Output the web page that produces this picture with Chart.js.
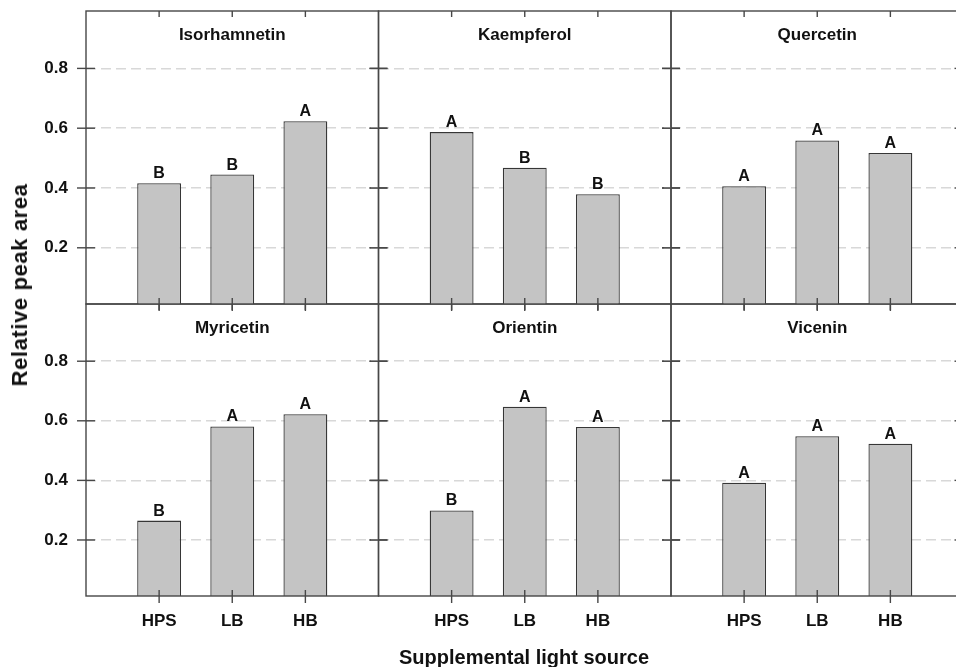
<!DOCTYPE html>
<html>
<head>
<meta charset="utf-8">
<script src="https://cdn.jsdelivr.net/npm/chart.js@4/dist/chart.umd.min.js"></script>
<style>
  html, body { margin: 0; padding: 0; background: #fff; overflow: hidden; }
  #wrap { position: relative; width: 956px; height: 667px; overflow: hidden; background: #fff; }
  #wrap canvas { position: absolute; left: 0; top: 0; }
  .axis-title { position: absolute; font-family: "Liberation Sans", Arial, sans-serif; font-weight: bold; color: #111; white-space: nowrap; }
  #ytitle { left: 20px; top: 285px; font-size: 22px; letter-spacing: 0.6px; transform: translate(-50%, -50%) rotate(-90deg); }
  #xtitle { left: 524px; top: 657px; font-size: 20px; transform: translate(-50%, -50%); }
</style>
</head>
<body>
<div id="wrap">
  <div class="axis-title" id="ytitle">Relative peak area</div>
  <div class="axis-title" id="xtitle">Supplemental light source</div>
</div>
<script>
// Light sources on the x axis of every panel
const categories = ['HPS', 'LB', 'HB'];
const yTicks = [0.2, 0.4, 0.6, 0.8];

// Relative peak area per compound (HPS, LB, HB)
const isorhamnetin = [0.416, 0.445, 0.623];
const kaempferol   = [0.587, 0.468, 0.379];
const quercetin    = [0.406, 0.559, 0.517];
const myricetin    = [0.265, 0.581, 0.622];
const orientin     = [0.299, 0.647, 0.579];
const vicenin      = [0.392, 0.548, 0.523];

// Mean separation letters
const isorhamnetinLetters = ['B', 'B', 'A'];
const kaempferolLetters   = ['A', 'B', 'B'];
const quercetinLetters    = ['A', 'A', 'A'];
const myricetinLetters    = ['B', 'A', 'A'];
const orientinLetters     = ['B', 'A', 'A'];
const viceninLetters      = ['A', 'A', 'A'];

const panels = [
  { title: 'Isorhamnetin', values: isorhamnetin, letters: isorhamnetinLetters },
  { title: 'Kaempferol',   values: kaempferol,   letters: kaempferolLetters },
  { title: 'Quercetin',    values: quercetin,    letters: quercetinLetters },
  { title: 'Myricetin',    values: myricetin,    letters: myricetinLetters },
  { title: 'Orientin',     values: orientin,     letters: orientinLetters },
  { title: 'Vicenin',      values: vicenin,      letters: viceninLetters }
];

// Panel grid geometry (px)
const CANVAS_W = 980, CANVAS_H = 667;
const colEdges = [86, 378.5, 671, 963.5];
const rowEdges = [11, 304, 596];
const FONT = '"Liberation Sans", Arial, Helvetica, sans-serif';

// Give an axis a fixed thickness so the plot area lands exactly on the panel edges
function fixedFit(size) {
  return scale => {
    if (scale.isHorizontal()) scale.height = size; else scale.width = size;
    scale.paddingTop = scale.paddingBottom = scale.paddingLeft = scale.paddingRight = 0;
  };
}

// Frame, crossing tick marks, panel title and letters above the bars
const panelDecor = {
  id: 'panelDecor',
  afterDraw(chart, args, opts) {
    const { ctx, chartArea: a } = chart;
    const xs = chart.scales.x, ys = chart.scales.y;
    const line = (x1, y1, x2, y2) => { ctx.beginPath(); ctx.moveTo(x1, y1); ctx.lineTo(x2, y2); ctx.stroke(); };
    ctx.save();
    ctx.strokeStyle = '#474747';
    ctx.lineWidth = 1.4;
    ctx.strokeRect(a.left, a.top, a.right - a.left, a.bottom - a.top);
    ys.ticks.forEach(t => {
      const y = ys.getPixelForValue(t.value);
      line(a.left - 9, y, a.left + 9, y);
      line(a.right - 9, y, a.right + 9, y);
    });
    xs.ticks.forEach(t => {
      const x = xs.getPixelForValue(t.value);
      line(x, a.bottom - 6, x, a.bottom + 7);
      line(x, a.top, x, a.top + 6);
    });
    ctx.fillStyle = '#111';
    ctx.textAlign = 'center';
    ctx.font = 'bold 17px ' + FONT;
    ctx.textBaseline = 'middle';
    ctx.fillText(opts.title, (a.left + a.right) / 2, a.top + 24);
    ctx.font = 'bold 16px ' + FONT;
    ctx.textBaseline = 'alphabetic';
    const meta = chart.getDatasetMeta(0);
    meta.data.forEach((bar, i) => ctx.fillText(opts.letters[i], bar.x, bar.y - 5));
    ctx.restore();
  }
};

const wrap = document.getElementById('wrap');
panels.forEach((p, idx) => {
  const row = Math.floor(idx / 3), col = idx % 3;
  const canvas = document.createElement('canvas');
  canvas.width = CANVAS_W; canvas.height = CANVAS_H;
  canvas.style.width = CANVAS_W + 'px'; canvas.style.height = CANVAS_H + 'px';
  wrap.insertBefore(canvas, wrap.firstChild);
  const left = colEdges[col], right = colEdges[col + 1];
  const top = rowEdges[row], bottom = rowEdges[row + 1];
  const yAxisW = col === 0 ? left : 0;
  const xAxisH = row === 1 ? CANVAS_H - bottom : 0;

  new Chart(canvas, {
    type: 'bar',
    data: {
      datasets: [{
        data: p.values.map((v, i) => ({ x: i + 1, y: v })),
        backgroundColor: '#c4c4c4',
        borderColor: '#363636',
        borderWidth: 1.3,
        categoryPercentage: 1,
        barPercentage: 0.6
      }]
    },
    options: {
      responsive: false,
      animation: false,
      events: [],
      layout: { padding: { left: left - yAxisW, top: top, right: CANVAS_W - right, bottom: CANVAS_H - bottom - xAxisH } },
      plugins: {
        legend: { display: false },
        tooltip: { enabled: false },
        panelDecor: { title: p.title, letters: p.letters }
      },
      scales: {
        x: {
          type: 'linear',
          offset: false,
          min: 0, max: 4,
          afterBuildTicks: s => { s.ticks = categories.map((c, i) => ({ value: i + 1 })); },
          afterFit: fixedFit(xAxisH),
          grid: { display: false, offset: false, drawTicks: false },
          border: { display: false },
          ticks: {
            display: row === 1,
            padding: 15,
            autoSkip: false,
            color: '#111',
            font: { family: FONT, weight: 'bold', size: 17 },
            maxRotation: 0,
            callback: v => categories[v - 1]
          }
        },
        y: {
          min: 0.012, max: 0.992,
          afterBuildTicks: s => { s.ticks = yTicks.map(v => ({ value: v })); },
          afterFit: fixedFit(yAxisW),
          grid: { color: '#d8d8d8', lineWidth: 1.5, drawTicks: false },
          border: { display: false, dash: [10, 5] },
          ticks: {
            display: col === 0,
            padding: 18,
            color: '#111',
            font: { family: FONT, weight: 'bold', size: 17 },
            callback: v => v.toFixed(1)
          }
        }
      }
    },
    plugins: [panelDecor]
  });
});
</script>
</body>
</html>
